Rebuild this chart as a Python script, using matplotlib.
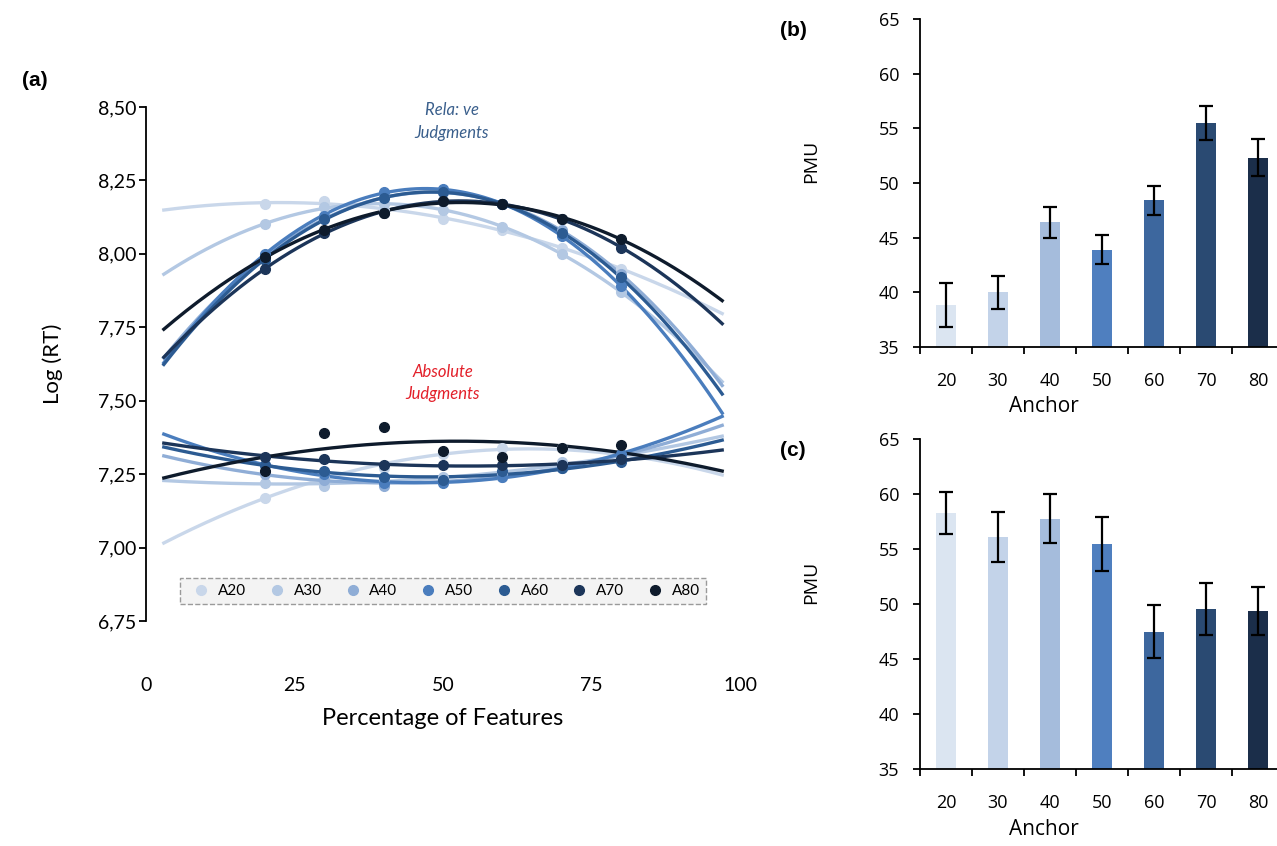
import numpy as np
import matplotlib
matplotlib.use("Agg")
import matplotlib.pyplot as plt
from matplotlib.lines import Line2D

plt.rcParams["font.family"] = ["Lato", "DejaVu Sans"]

# ---- panel (a): log RT per anchor, by percentage of features ----
features = [20, 30, 40, 50, 60, 70, 80]
anchors = ["A20", "A30", "A40", "A50", "A60", "A70", "A80"]

relative_rt = {
    "A20": [8.17, 8.18, 8.15, 8.12, 8.08, 8.02, 7.95],
    "A30": [8.10, 8.16, 8.17, 8.15, 8.09, 8.00, 7.87],
    "A40": [7.99, 8.12, 8.19, 8.21, 8.17, 8.08, 7.93],
    "A50": [8.00, 8.13, 8.21, 8.22, 8.17, 8.06, 7.89],
    "A60": [7.98, 8.12, 8.19, 8.21, 8.17, 8.07, 7.92],
    "A70": [7.95, 8.07, 8.14, 8.18, 8.17, 8.12, 8.02],
    "A80": [7.99, 8.08, 8.14, 8.18, 8.17, 8.12, 8.05],
}
absolute_rt = {
    "A20": [7.17, 7.24, 7.27, 7.32, 7.34, 7.34, 7.31],
    "A30": [7.22, 7.21, 7.23, 7.24, 7.25, 7.29, 7.31],
    "A40": [7.25, 7.23, 7.21, 7.23, 7.24, 7.28, 7.31],
    "A50": [7.28, 7.25, 7.22, 7.22, 7.24, 7.27, 7.32],
    "A60": [7.28, 7.26, 7.24, 7.23, 7.26, 7.27, 7.29],
    "A70": [7.31, 7.30, 7.28, 7.28, 7.28, 7.28, 7.30],
    "A80": [7.26, 7.39, 7.41, 7.33, 7.31, 7.34, 7.35],
}

# ---- panels (b) and (c): PMU by anchor ----
anchor_labels = ["20", "30", "40", "50", "60", "70", "80"]
pmu_b = [38.8, 40.0, 46.4, 43.9, 48.4, 55.5, 52.3]
err_b = [2.0, 1.5, 1.4, 1.3, 1.3, 1.55, 1.7]
pmu_c = [58.3, 56.1, 57.8, 55.5, 47.5, 49.6, 49.4]
err_c = [1.9, 2.25, 2.25, 2.45, 2.4, 2.35, 2.15]

line_colors = ["#c9d7ea", "#b3c8e3", "#8fadd6", "#4a7dbd", "#2c5b92", "#1c3559", "#0e1b2c"]
bar_colors = ["#dbe5f1", "#c3d3e9", "#a5bcdc", "#4f7fbf", "#3d679e", "#2a4a72", "#1b2e4a"]

W, H = 1277, 846
fig = plt.figure(figsize=(W / 100, H / 100), dpi=100)


def box(left, top, right, bottom):
    return [left / W, 1 - bottom / H, (right - left) / W, (bottom - top) / H]


# ---------------- (a) ----------------
ax = fig.add_axes(box(146, 107, 740, 621))
xs = np.array(features)
xfit = np.linspace(3, 97, 200)
for name, col in zip(anchors, line_colors):
    for data in (relative_rt[name], absolute_rt[name]):
        coef = np.polyfit(xs, data, 2)
        ax.plot(xfit, np.polyval(coef, xfit), color=col, lw=2.4, zorder=2)
        ax.plot(xs, data, "o", color=col, ms=7, zorder=3)

ax.set_xlim(0, 100)
ax.set_ylim(6.75, 8.5)
ax.set_xticks([0, 25, 50, 75, 100])
yt = [6.75, 7.0, 7.25, 7.5, 7.75, 8.0, 8.25, 8.5]
ax.set_yticks(yt)
ax.set_yticklabels([f"{v:.2f}".replace(".", ",") for v in yt])
for s in ("top", "right", "bottom"):
    ax.spines[s].set_visible(False)
ax.spines["left"].set_linewidth(1.3)
ax.tick_params(axis="x", length=0, pad=40, labelsize=14)
ax.tick_params(axis="y", length=5, width=1.3, pad=2, labelsize=14)
ax.set_xlabel("Percentage of Features", fontsize=17)
ax.xaxis.set_label_coords(0.5, -0.17)
ax.set_ylabel("Log (RT)", fontsize=16)
ax.yaxis.set_label_coords(-0.14, 0.5)

ax.text(51.5, 8.45, "Rela: ve\nJudgments", color="#3a5f8c", style="italic",
        fontsize=12, ha="center", va="center", linespacing=1.5)
ax.text(50, 7.56, "Absolute\nJudgments", color="#e3202a", style="italic",
        fontsize=12, ha="center", va="center", linespacing=1.5)

handles = [Line2D([], [], marker="o", ls="none", color=c, ms=7) for c in line_colors]
leg = ax.legend(handles, anchors, ncol=7, mode="expand", loc="lower left",
                bbox_to_anchor=(0.057, 0.033, 0.886, 0.08), fontsize=11,
                handletextpad=0.1, borderaxespad=0, fancybox=False,
                facecolor="#f3f3f3", edgecolor="#9a9a9a", framealpha=1)
leg.get_frame().set_linestyle("--")

fig.text(22 / W, 1 - 80 / H, "(a)", fontsize=15, fontweight="bold",
         family=["Liberation Sans", "DejaVu Sans"], va="center")


# ---------------- (b) and (c) ----------------
def bar_panel(top, bottom, vals, errs, tag, tag_y):
    bx = fig.add_axes(box(920, top, 1284, bottom))
    pos = np.arange(len(vals))
    bx.bar(pos, np.array(vals) - 35, bottom=35, width=0.4, color=bar_colors,
           yerr=errs, capsize=5, error_kw=dict(ecolor="black", elinewidth=1.6, capthick=1.6))
    bx.set_xlim(-0.5, 6.5)
    bx.set_ylim(35, 65)
    bx.set_yticks(range(35, 66, 5))
    bx.set_xticks(pos)
    bx.set_xticklabels(anchor_labels)
    bx.set_xticks(np.arange(-0.5, 7, 1), minor=True)
    for s in ("top", "right"):
        bx.spines[s].set_visible(False)
    for s in ("left", "bottom"):
        bx.spines[s].set_linewidth(1.3)
    bx.tick_params(axis="x", which="major", length=0, pad=18, labelsize=13)
    bx.tick_params(axis="x", which="minor", length=5, width=1.3)
    bx.tick_params(axis="y", length=5, width=1.3, pad=10, labelsize=13)
    for lab in bx.get_xticklabels() + bx.get_yticklabels():
        lab.set_family(["Open Sans", "DejaVu Sans"])
    bx.set_xlabel("Anchor", fontsize=15, family=["Open Sans", "DejaVu Sans"])
    bx.xaxis.set_label_coords(0.34, -0.15)
    bx.set_ylabel("PMU", fontsize=14, family=["Open Sans", "DejaVu Sans"])
    bx.yaxis.set_label_coords(-0.275, 0.565)
    fig.text(780 / W, 1 - tag_y / H, tag, fontsize=15, fontweight="bold",
             family=["Liberation Sans", "DejaVu Sans"], va="center")
    return bx


bar_panel(19.3, 346.7, pmu_b, err_b, "(b)", 30)
bar_panel(439.3, 769.3, pmu_c, err_c, "(c)", 450)

fig.savefig("out.png", dpi=100)
